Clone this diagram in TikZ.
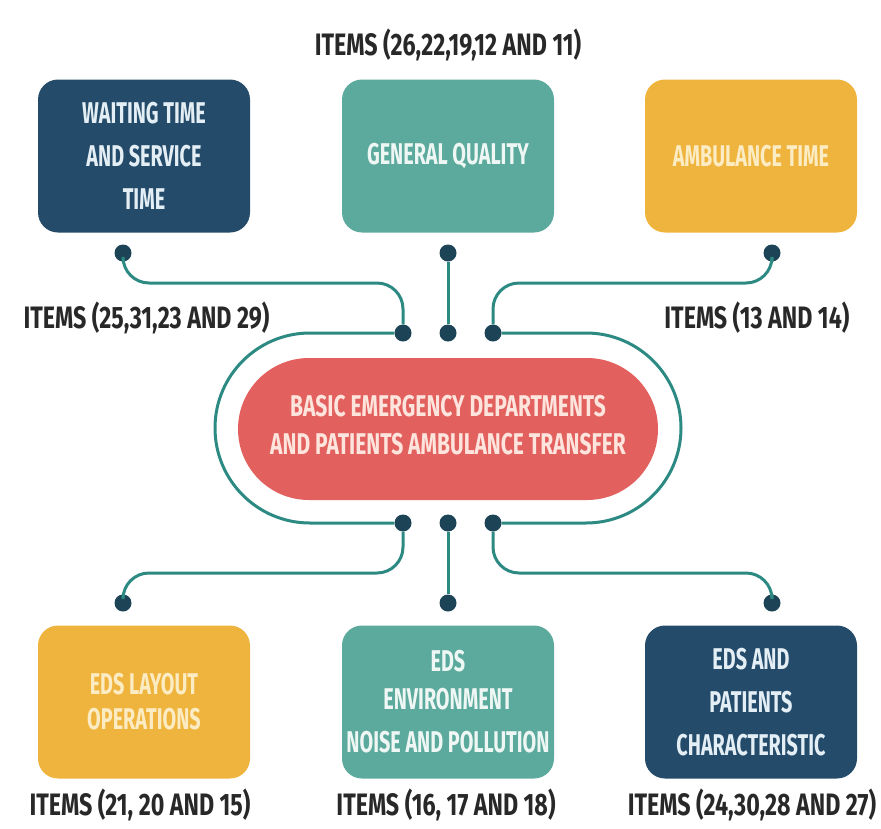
\documentclass[tikz,border=0pt]{standalone}
\usepackage{fontspec}
\setmainfont{Fira Sans}
\newfontfamily\boxfont[FakeStretch=0.66]{Fira Sans}
\newfontfamily\pillfont[FakeStretch=0.7]{Fira Sans}
\newfontfamily\itemfont[FakeStretch=0.75]{Fira Sans}
\usetikzlibrary{positioning}
\definecolor{boxnavy}{RGB}{36,76,106}
\definecolor{boxteal}{RGB}{92,170,157}
\definecolor{boxamber}{RGB}{239,180,61}
\definecolor{pillred}{RGB}{226,96,94}
\definecolor{linkteal}{RGB}{45,138,131}
\definecolor{dotnavy}{RGB}{28,67,86}
\definecolor{navytext}{RGB}{228,238,245}
\definecolor{tealtext}{RGB}{238,247,244}
\definecolor{ambertext}{RGB}{252,236,196}
\definecolor{redtext}{RGB}{253,228,221}
\definecolor{itemgray}{RGB}{40,40,40}

\tikzset{
  card/.style={rectangle, rounded corners=20pt, minimum width=212pt, minimum height=153pt,
    align=center, font=\boxfont\bfseries\fontsize{30}{43}\selectfont},
  pill/.style={rectangle, rounded corners=71pt, minimum width=420pt, minimum height=142pt,
    fill=pillred, text=redtext, align=center, font=\pillfont\bfseries\fontsize{30}{38}\selectfont},
  dotnode/.style={circle, fill=dotnavy, inner sep=0pt, minimum size=17pt},
  link/.style={draw=linkteal, line width=3pt, rounded corners=26pt},
  itemlabel/.style={anchor=base, text=itemgray, font=\itemfont\bfseries\fontsize{31}{34}\selectfont}
}

\begin{document}
\begin{tikzpicture}[x=1pt,y=-1pt]
\useasboundingbox (0,0) rectangle (881,828);
% Top cards
\node[card, fill=boxnavy, text=navytext] (wait) at (144,156) {WAITING TIME\\AND SERVICE\\TIME};
\node[card, fill=boxteal, text=tealtext] (qual) at (448,156) {GENERAL QUALITY};
\node[card, fill=boxamber, text=ambertext] (amb) at (751,156) {AMBULANCE TIME};
% Bottom cards
\node[card, fill=boxamber, text=ambertext] (lay) at (144,702) {EDS LAYOUT\\[-8pt]OPERATIONS};
\node[card, fill=boxteal, text=tealtext] (env) at (448,702) {EDS\\[-5pt]ENVIRONMENT\\NOISE AND POLLUTION};
\node[card, fill=boxnavy, text=navytext] (pat) at (751,702) {EDS AND\\PATIENTS\\CHARACTERISTIC};
% Centre
\node[pill] (core) at (448,429) {};
\node[pill, fill=none] (coretext) at (448,425) {BASIC EMERGENCY DEPARTMENTS\\AND PATIENTS AMBULANCE TRANSFER};
% Dots
\node[dotnode] (dw) at (123,253) {};
\node[dotnode] (dq) at (448,253) {};
\node[dotnode] (da) at (772,253) {};
\node[dotnode] (ctl) at (403,333) {};
\node[dotnode] (ctm) at (448,333) {};
\node[dotnode] (ctr) at (493,333) {};
\node[dotnode] (cbl) at (403,523) {};
\node[dotnode] (cbm) at (448,523) {};
\node[dotnode] (cbr) at (493,523) {};
\node[dotnode] (dl) at (123,603) {};
\node[dotnode] (de) at (448,603) {};
\node[dotnode] (dp) at (772,603) {};
% Turning levels
\coordinate (htop) at (0,283); % upper bends
\coordinate (hbot) at (0,573); % lower bends
\coordinate (loopw) at (215,428); % loop left side
\coordinate (loope) at (681,428); % loop right side
% Links
\draw[link] (dw) |- (ctl |- htop) -- (ctl);
\draw[link] (dq) -- (ctm);
\draw[link] (da) |- (ctr |- htop) -- (ctr);
\draw[link] (cbl) |- (dl |- hbot) -- (dl);
\draw[link] (cbm) -- (de);
\draw[link] (cbr) |- (dp |- hbot) -- (dp);
% Loops round the centre
\draw[link, rounded corners=95pt] (ctl) -- (ctl -| loopw) -- (cbl -| loopw) -- (cbl);
\draw[link, rounded corners=95pt] (ctr) -- (ctr -| loope) -- (cbr -| loope) -- (cbr);
% Items
\node[itemlabel] (iq) at (448,55) {ITEMS (26,22,19,12 AND 11)};
\node[itemlabel, anchor=base west] (iw) at (20,328) {ITEMS (25,31,23 AND 29)};
\node[itemlabel, anchor=base east] (ia) at (853,328) {ITEMS (13 AND 14)};
\node[itemlabel] (il) at (140,815) {ITEMS (21, 20 AND 15)};
\node[itemlabel] (ie) at (446,815) {ITEMS (16, 17 AND 18)};
\node[itemlabel] (ip) at (752,815) {ITEMS (24,30,28 AND 27)};
\end{tikzpicture}
\end{document}
